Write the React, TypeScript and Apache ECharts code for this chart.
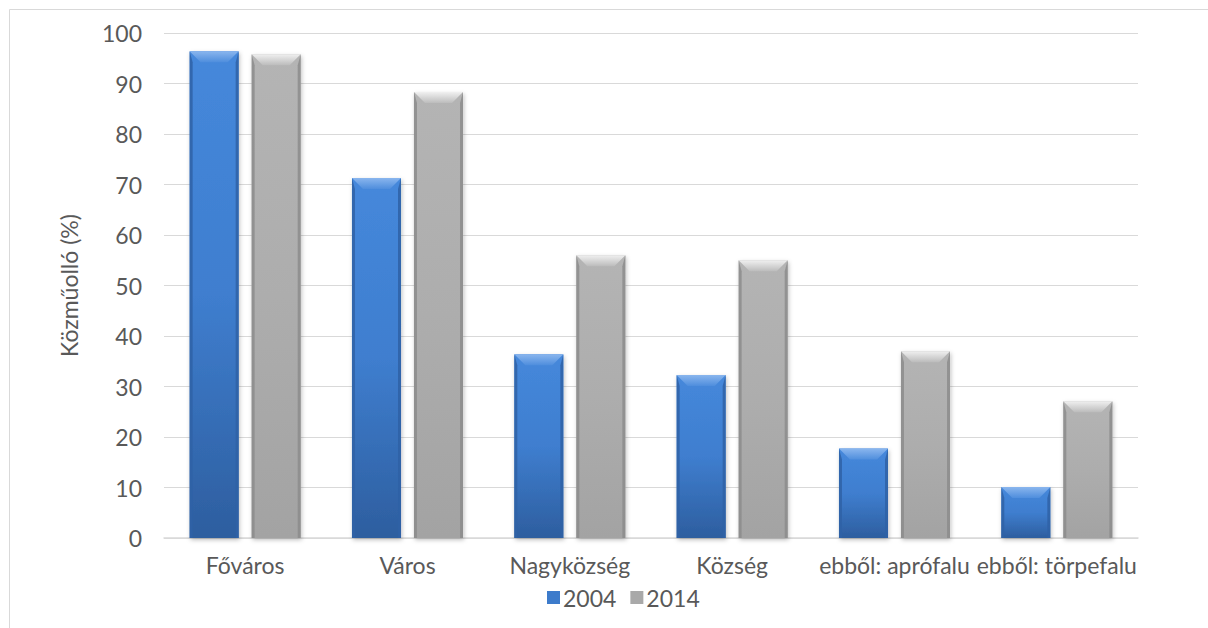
import React, { useEffect, useRef } from "react";
import * as echarts from "echarts";

const categories = ["Főváros", "Város", "Nagyközség", "Község", "ebből: aprófalu", "ebből: törpefalu"];
const values2004 = [96.4, 71.3, 36.4, 32.3, 17.7, 10.1];
const values2014 = [95.8, 88.3, 56.0, 55.0, 37.0, 27.1];
const yTicks = { min: 0, max: 100, interval: 10 };
const seriesNames = ["2004", "2014"];

const FONT = "Lato";
const TEXT = "#595959";
const FS = 23;

const palettes = [
  {
    body: ["#4588DB", "#3F7ECF", "#2D5E9F"],
    top: ["#8AB6EE", "#4F8EDD"],
    side: "#2F62A6",
    legend: "#3D7BCB",
  },
  {
    body: ["#B4B4B4", "#ADADAD", "#A3A3A3"],
    top: ["#F0F0F0", "#BCBCBC"],
    side: "#8C8C8C",
    legend: "#A9A9A9",
  },
];

function makeRender(idx: number) {
  const p = palettes[idx];
  return (params: any, api: any) => {
    const ci = api.value(0);
    const v = api.value(1);
    const base = api.coord([ci, 0]);
    const topPt = api.coord([ci, v]);
    const band = api.size([1, 0])[0];
    const bw = band * 0.302;
    const gap = band * 0.08;
    const cx = base[0];
    const x0 = idx === 0 ? cx - gap / 2 - bw : cx + gap / 2;
    const x1 = x0 + bw;
    const t = topPt[1];
    const b = base[1];
    const d = Math.min(11, (b - t) / 2);
    const s = 3;
    return {
      type: "group",
      children: [
        {
          type: "rect",
          shape: { x: x0, y: t, width: bw, height: b - t },
          style: {
            fill: new echarts.graphic.LinearGradient(0, 0, 0, 1, [
              { offset: 0, color: p.body[0] },
              { offset: 0.5, color: p.body[1] },
              { offset: 1, color: p.body[2] },
            ]),
            shadowBlur: 4,
            shadowColor: "rgba(0,0,0,0.25)",
            shadowOffsetY: 2,
            shadowOffsetX: 1,
          },
        },
        {
          type: "polygon",
          shape: { points: [[x0, t], [x0 + s, t + d], [x0 + s, b], [x0, b]] },
          style: { fill: p.side, opacity: 0.85 },
        },
        {
          type: "polygon",
          shape: { points: [[x1, t], [x1 - s, t + d], [x1 - s, b], [x1, b]] },
          style: { fill: p.side, opacity: 0.85 },
        },
        {
          type: "polygon",
          shape: { points: [[x0, t], [x1, t], [x1 - d, t + d], [x0 + d, t + d]] },
          style: {
            fill: new echarts.graphic.LinearGradient(0, 0, 0, 1, [
              { offset: 0, color: p.top[0] },
              { offset: 1, color: p.top[1] },
            ]),
          },
        },
      ],
    };
  };
}

export default function App() {
  const ref = useRef<HTMLDivElement>(null);
  useEffect(() => {
    const chart = echarts.init(ref.current!, undefined, { renderer: "svg" });
    const mkData = (arr: number[]) => arr.map((v, i) => [i, v]);
    chart.setOption({
      animation: false,
      textStyle: { fontFamily: FONT },
      graphic: [
        {
          type: "rect",
          shape: { x: 9.5, y: 9.5, width: 1220, height: 640 },
          style: { fill: "none", stroke: "#D9D9D9", lineWidth: 1 },
          silent: true,
        },
      ],
      grid: { left: 164, right: 70, top: 33, bottom: 90, containLabel: false },
      legend: {
        data: seriesNames,
        left: 542,
        top: 581,
        icon: "rect",
        itemWidth: 13,
        itemHeight: 13,
        itemGap: 14,
        textStyle: { color: TEXT, fontSize: FS, fontFamily: FONT, padding: [0, 0, 0, -2] },
      },
      xAxis: {
        type: "category",
        data: categories,
        axisTick: { show: false },
        axisLine: { lineStyle: { color: "#D9D9D9", width: 1.5 } },
        axisLabel: { color: TEXT, fontSize: FS, fontFamily: FONT, interval: 0, margin: 15 },
      },
      yAxis: {
        type: "value",
        min: yTicks.min,
        max: yTicks.max,
        interval: yTicks.interval,
        name: "Közműolló (%)",
        nameLocation: "middle",
        nameGap: 84,
        nameTextStyle: { color: TEXT, fontSize: FS, fontFamily: FONT },
        axisLine: { show: false },
        axisTick: { show: false },
        axisLabel: { color: TEXT, fontSize: FS, fontFamily: FONT, margin: 22 },
        splitLine: { lineStyle: { color: "#D9D9D9", width: 1 } },
      },
      series: [
        {
          name: seriesNames[0],
          type: "custom",
          renderItem: makeRender(0),
          data: mkData(values2004),
          itemStyle: { color: palettes[0].legend },
          encode: { x: 0, y: 1 },
        },
        {
          name: seriesNames[1],
          type: "custom",
          renderItem: makeRender(1),
          data: mkData(values2014),
          itemStyle: { color: palettes[1].legend },
          encode: { x: 0, y: 1 },
        },
      ],
    });
    return () => chart.dispose();
  }, []);
  return (
    <div
      ref={ref}
      style={{ position: "absolute", left: 0, top: 0, width: 1208, height: 628, background: "#fff" }}
    />
  );
}
